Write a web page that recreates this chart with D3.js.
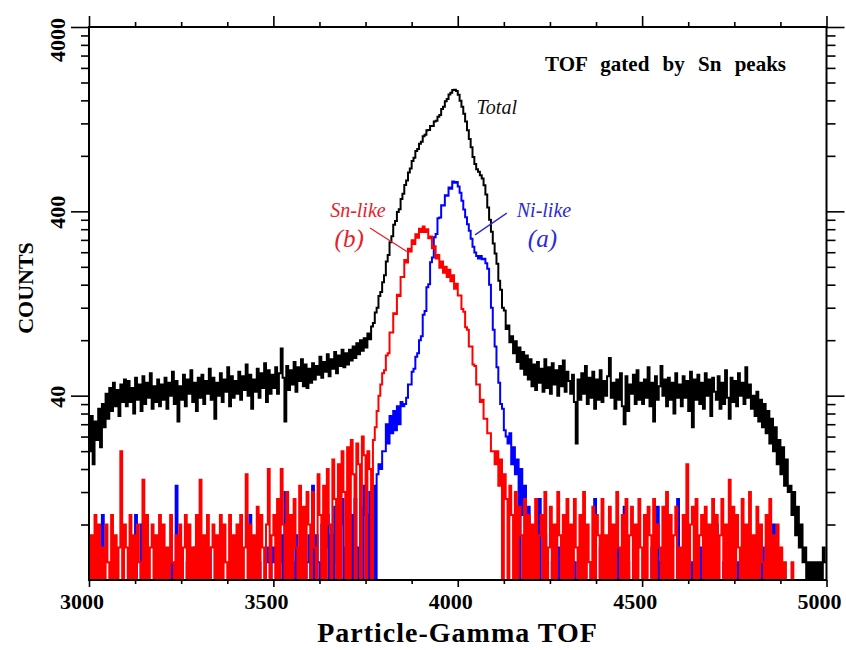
<!DOCTYPE html>
<html>
<head>
<meta charset="utf-8">
<script src="https://cdn.jsdelivr.net/npm/d3@7/dist/d3.min.js"></script>
<style>
  html, body { margin: 0; padding: 0; background: #fff; }
  svg { display: block; }
  text { font-family: "Liberation Serif", "Times New Roman", serif; }
</style>
</head>
<body>
<svg id="chart" width="846" height="650"></svg>
<script>
// Histogram binning of the particle-gamma TOF spectra
const tofStart = 3000;
const binWidth = 5;

// Total spectrum (counts per bin)
const totalCounts = [
  20,31,17,29,23,34,21,36,27,41,30,44,33,47,35,43,31,46,37,49,
  35,48,37,44,32,50,38,46,33,51,36,47,39,53,34,45,37,49,35,46,
  38,50,34,47,40,54,36,48,29,45,38,52,35,49,41,55,37,47,33,50,
  39,52,36,48,41,56,38,50,30,47,40,53,37,49,42,57,35,51,39,48,
  41,54,38,51,43,59,40,52,34,49,42,56,39,53,44,60,37,55,41,52,
  44,57,41,53,72,50,29,58,43,55,46,61,42,57,48,63,45,59,44,56,
  47,60,49,58,52,65,50,61,54,67,51,63,56,69,53,66,58,71,57,68,
  59,71,62,74,64,77,67,80,70,82,73,87,81,95,99,113,120,139,146,165,
  180,214,232,272,293,338,354,397,411,466,498,556,588,650,683,751,782,851,872,930,
  955,1022,1040,1102,1104,1163,1160,1228,1240,1303,1334,1434,1478,1583,1629,1724,1758,1822,1826,1800,
  1718,1592,1478,1352,1228,1102,988,892,788,722,677,656,628,602,554,493,420,360,310,268,
  236,208,168,150,120,116,92,96,78,84,68,79,61,73,56,69,52,66,49,63,
  45,59,43,61,47,56,42,63,44,57,41,60,46,55,40,58,45,62,42,54,
  48,41,52,37,22,49,38,53,41,58,36,50,39,54,34,49,38,55,37,48,
  40,51,64,39,47,34,49,38,53,35,28,51,33,46,41,52,36,55,38,47,
  36,49,39,57,35,47,29,51,38,45,58,40,49,35,50,38,47,32,53,39,
  46,35,51,39,48,33,54,27,49,38,52,36,47,34,53,40,49,31,50,42,
  38,51,34,47,36,55,39,30,50,37,48,35,53,40,47,36,57,39,46,34,
  40,31,42,29,38,27,36,25,33,22,30,20,27,17,23,15,21,13,18,12,
  13,9,12,7,10,6,8,5,6,4,5,0,5,0,5,0,5,0,6,5
];

// Ni-like gate (a)
const niLikeCounts = [
  0,2,0,4,0,1,0,9,3,0,2,0,5,0,1,3,0,0,2,0,
  1,0,3,0,6,9,0,2,8,0,1,4,0,0,3,0,5,0,2,1,
  0,3,0,1,5,0,2,13,0,4,0,1,0,5,0,2,0,6,1,0,
  3,0,2,0,5,6,0,1,0,3,0,5,2,0,1,0,4,0,6,0,
  0,1,5,0,3,0,2,9,0,4,1,0,5,0,3,0,6,5,0,6,
  5,6,0,5,7,4,12,5,0,6,5,3,7,0,5,4,6,0,5,7,
  0,13,0,7,5,0,8,0,6,9,0,7,0,10,5,0,8,11,0,6,
  7,0,9,0,11,6,0,10,0,13,9,0,12,0,13,0,15,17,16,20,
  20,28,22,31,25,33,26,35,28,37,35,36,39,46,46,54,56,65,68,80,
  84,110,115,155,161,212,225,289,301,367,370,432,430,489,486,539,530,580,572,577,
  546,505,457,409,371,340,314,284,257,239,229,222,229,220,221,209,195,160,120,91,
  74,57,47,36,34,26,24,22,25,17,21,15,18,0,16,9,13,0,10,5,
  0,6,3,0,11,2,0,7,0,4,0,5,1,0,6,0,3,0,5,2,
  0,3,0,5,0,1,6,0,2,0,4,0,5,0,11,3,0,6,0,1,
  2,0,5,0,3,0,6,0,1,4,10,0,5,0,2,0,6,0,3,0,
  0,5,0,2,0,6,0,3,10,0,5,0,1,0,6,0,4,0,0,11,
  0,3,0,6,0,2,0,5,0,1,0,6,0,3,0,0,5,0,2,0,
  8,0,3,0,5,0,1,6,0,0,4,0,5,0,2,0,6,0,3,0,
  0,5,0,2,0,6,0,1,0,4,0,8,0,3,0,5,0,0,0,0,
  0,0,0,0,0,0,0,0,0,0,0,0,0,0,0,0,0,0,0,0
];

// Sn-like gate (b)
const snLikeCounts = [
  0,7,0,9,3,8,0,6,0,8,5,0,9,0,7,0,6,20,0,8,
  6,0,9,0,7,0,8,5,0,14,0,9,0,6,8,0,7,0,9,0,
  8,0,6,0,9,5,0,7,0,8,0,6,9,0,8,0,6,0,9,0,
  14,0,7,0,9,0,6,8,0,7,0,9,0,8,5,0,9,0,7,0,
  8,0,9,0,6,15,0,8,0,7,0,10,0,9,6,0,8,16,0,7,
  9,0,11,0,16,8,0,12,0,9,0,11,6,0,13,0,10,0,12,8,
  0,12,6,0,15,9,0,13,0,16,8,0,18,11,0,17,0,20,12,0,
  21,0,23,15,0,22,17,0,24,19,0,20,16,0,23,27,33,40,46,53,
  55,66,68,88,88,112,111,141,139,176,176,218,211,251,242,279,266,300,288,322,
  309,331,309,320,286,292,252,259,222,232,198,214,186,200,176,193,167,180,152,162,
  140,140,118,114,94,91,74,74,59,58,46,46,37,38,30,30,25,25,20,20,
  17,20,13,18,0,15,11,0,13,9,0,12,0,10,7,0,11,0,9,0,
  8,0,11,0,7,9,0,12,0,6,10,0,8,0,12,7,0,9,0,11,
  0,8,0,11,6,0,9,0,12,0,8,5,0,10,0,9,7,0,11,0,
  7,0,10,0,8,0,12,6,0,9,0,11,0,7,10,0,8,0,11,6,
  0,9,0,10,7,0,11,0,8,6,0,10,0,12,0,9,0,7,10,0,
  6,0,9,0,17,0,8,10,0,11,0,7,9,0,10,0,8,0,11,0,
  9,0,7,11,0,8,0,14,0,10,0,9,6,0,11,0,8,0,12,0,
  7,0,10,0,8,5,0,9,0,11,0,7,0,8,0,6,0,5,0,0,
  0,5,0,0,0,0,0,0,0,0,0,0,0,0,0,0,0,0,0,0
];

const xTickValues = [3000, 3500, 4000, 4500, 5000];
const yTickValues = [40, 400, 4000];
const xTitle = "Particle-Gamma TOF";
const yTitle = "COUNTS";
const plotTitle = "TOF gated by Sn peaks";

const svg = d3.select("#chart");
const plot = { left: 89, right: 826.5, top: 27, bottom: 580 };

const x = d3.scaleLinear().domain([3000, 5000]).range([plot.left, plot.right]);
const y = d3.scaleLog().domain([4, 4000]).range([plot.bottom, plot.top]).clamp(true);
const yFloor = y.domain()[0];

svg.append("defs").append("clipPath").attr("id", "plotArea")
  .append("rect")
  .attr("x", plot.left).attr("y", plot.top)
  .attr("width", plot.right - plot.left).attr("height", plot.bottom - plot.top);

// each bin becomes a step starting at its lower edge
function toSteps(counts) {
  const pts = counts.map((c, i) => [tofStart + i * binWidth, c]);
  pts.push([tofStart + counts.length * binWidth, counts[counts.length - 1]]);
  return pts;
}
const stepLine = d3.line()
  .curve(d3.curveStepAfter)
  .x(d => x(d[0]))
  .y(d => y(Math.max(d[1], yFloor)));

const spectra = svg.append("g").attr("clip-path", "url(#plotArea)");
[
  { counts: totalCounts, color: "#000000" },
  { counts: niLikeCounts, color: "#0000ff" },
  { counts: snLikeCounts, color: "#ff0000" }
].forEach(s => {
  spectra.append("path")
    .datum(toSteps(s.counts))
    .attr("fill", "none")
    .attr("stroke", s.color)
    .attr("stroke-width", 2)
    .attr("stroke-linejoin", "miter")
    .attr("d", stepLine);
});

// tick marks on all four sides
const minorX = d3.range(3000, 5001, 125).filter(v => v % 500 !== 0);
const minorY = [];
[4, 40, 400].forEach(b => { for (let m = 2; m <= 9; m++) minorY.push(b * m); });

function tickGroup(axis, tx, ty) {
  const g = svg.append("g").attr("transform", `translate(${tx},${ty})`).call(axis);
  g.select(".domain").remove();
  g.selectAll("text").remove();
  g.selectAll("line").attr("stroke", "#000").attr("stroke-width", 1.6);
  return g;
}
tickGroup(d3.axisBottom(x).tickValues(xTickValues).tickSize(7), 0, plot.bottom);
tickGroup(d3.axisBottom(x).tickValues(minorX).tickSize(4), 0, plot.bottom);
tickGroup(d3.axisTop(x).tickValues(xTickValues).tickSize(11), 0, plot.top);
tickGroup(d3.axisTop(x).tickValues(minorX).tickSize(5), 0, plot.top);
tickGroup(d3.axisLeft(y).tickValues(yTickValues).tickSize(18), plot.left, 0);
tickGroup(d3.axisLeft(y).tickValues(minorY).tickSize(8), plot.left, 0);
tickGroup(d3.axisRight(y).tickValues(yTickValues).tickSize(18), plot.right, 0);
tickGroup(d3.axisRight(y).tickValues(minorY).tickSize(9), plot.right, 0);

// frame
svg.append("rect")
  .attr("x", plot.left).attr("y", plot.top)
  .attr("width", plot.right - plot.left).attr("height", plot.bottom - plot.top)
  .attr("fill", "none").attr("stroke", "#000").attr("stroke-width", 2);

// tick labels
svg.append("g").selectAll("text").data(xTickValues).join("text")
  .attr("x", d => x(d) - 7).attr("y", 609)
  .attr("text-anchor", "middle")
  .attr("font-size", 22).attr("font-weight", "bold")
  .text(d => d);

svg.append("g").selectAll("text").data(yTickValues).join("text")
  .attr("transform", d => `translate(65,${d === 4000 ? y(d) + 13 : y(d) + 1}) rotate(-90)`)
  .attr("text-anchor", "middle")
  .attr("font-size", 22).attr("font-weight", "bold")
  .text(d => d);

// axis titles
svg.append("text")
  .attr("x", 457.5).attr("y", 642)
  .attr("text-anchor", "middle")
  .attr("font-size", 28).attr("font-weight", "bold")
  .attr("letter-spacing", 1)
  .text(xTitle);

svg.append("text")
  .attr("transform", "translate(33,288) rotate(-90)")
  .attr("text-anchor", "middle")
  .attr("font-size", 22).attr("font-weight", "bold")
  .text(yTitle);

svg.append("text")
  .attr("x", 786).attr("y", 71)
  .attr("text-anchor", "end")
  .attr("font-size", 21).attr("font-weight", "bold")
  .attr("word-spacing", 8)
  .text(plotTitle);

// annotations placed in data coordinates
const notes = svg.append("g").attr("font-style", "italic");
notes.append("text").attr("x", x(4051)).attr("y", y(1350))
  .attr("font-size", 20).attr("fill", "#111").text("Total");
notes.append("text").attr("x", x(3654)).attr("y", y(374))
  .attr("font-size", 20).attr("fill", "#e8202a").text("Sn-like");
notes.append("text").attr("x", x(3666)).attr("y", y(256))
  .attr("font-size", 25).attr("fill", "#e8202a").text("(b)");
notes.append("text").attr("x", x(4160)).attr("y", y(374))
  .attr("font-size", 20).attr("fill", "#2b2bd9").text("Ni-like");
notes.append("text").attr("x", x(4190)).attr("y", y(256))
  .attr("font-size", 25).attr("fill", "#2b2bd9").text("(a)");

svg.append("line")
  .attr("x1", x(3762)).attr("y1", y(325)).attr("x2", x(3862)).attr("y2", y(242))
  .attr("stroke", "#e8202a").attr("stroke-width", 1.3);
svg.append("line")
  .attr("x1", x(4133)).attr("y1", y(391)).attr("x2", x(4047)).attr("y2", y(298))
  .attr("stroke", "#2b2bd9").attr("stroke-width", 1.3);
</script>
</body>
</html>
